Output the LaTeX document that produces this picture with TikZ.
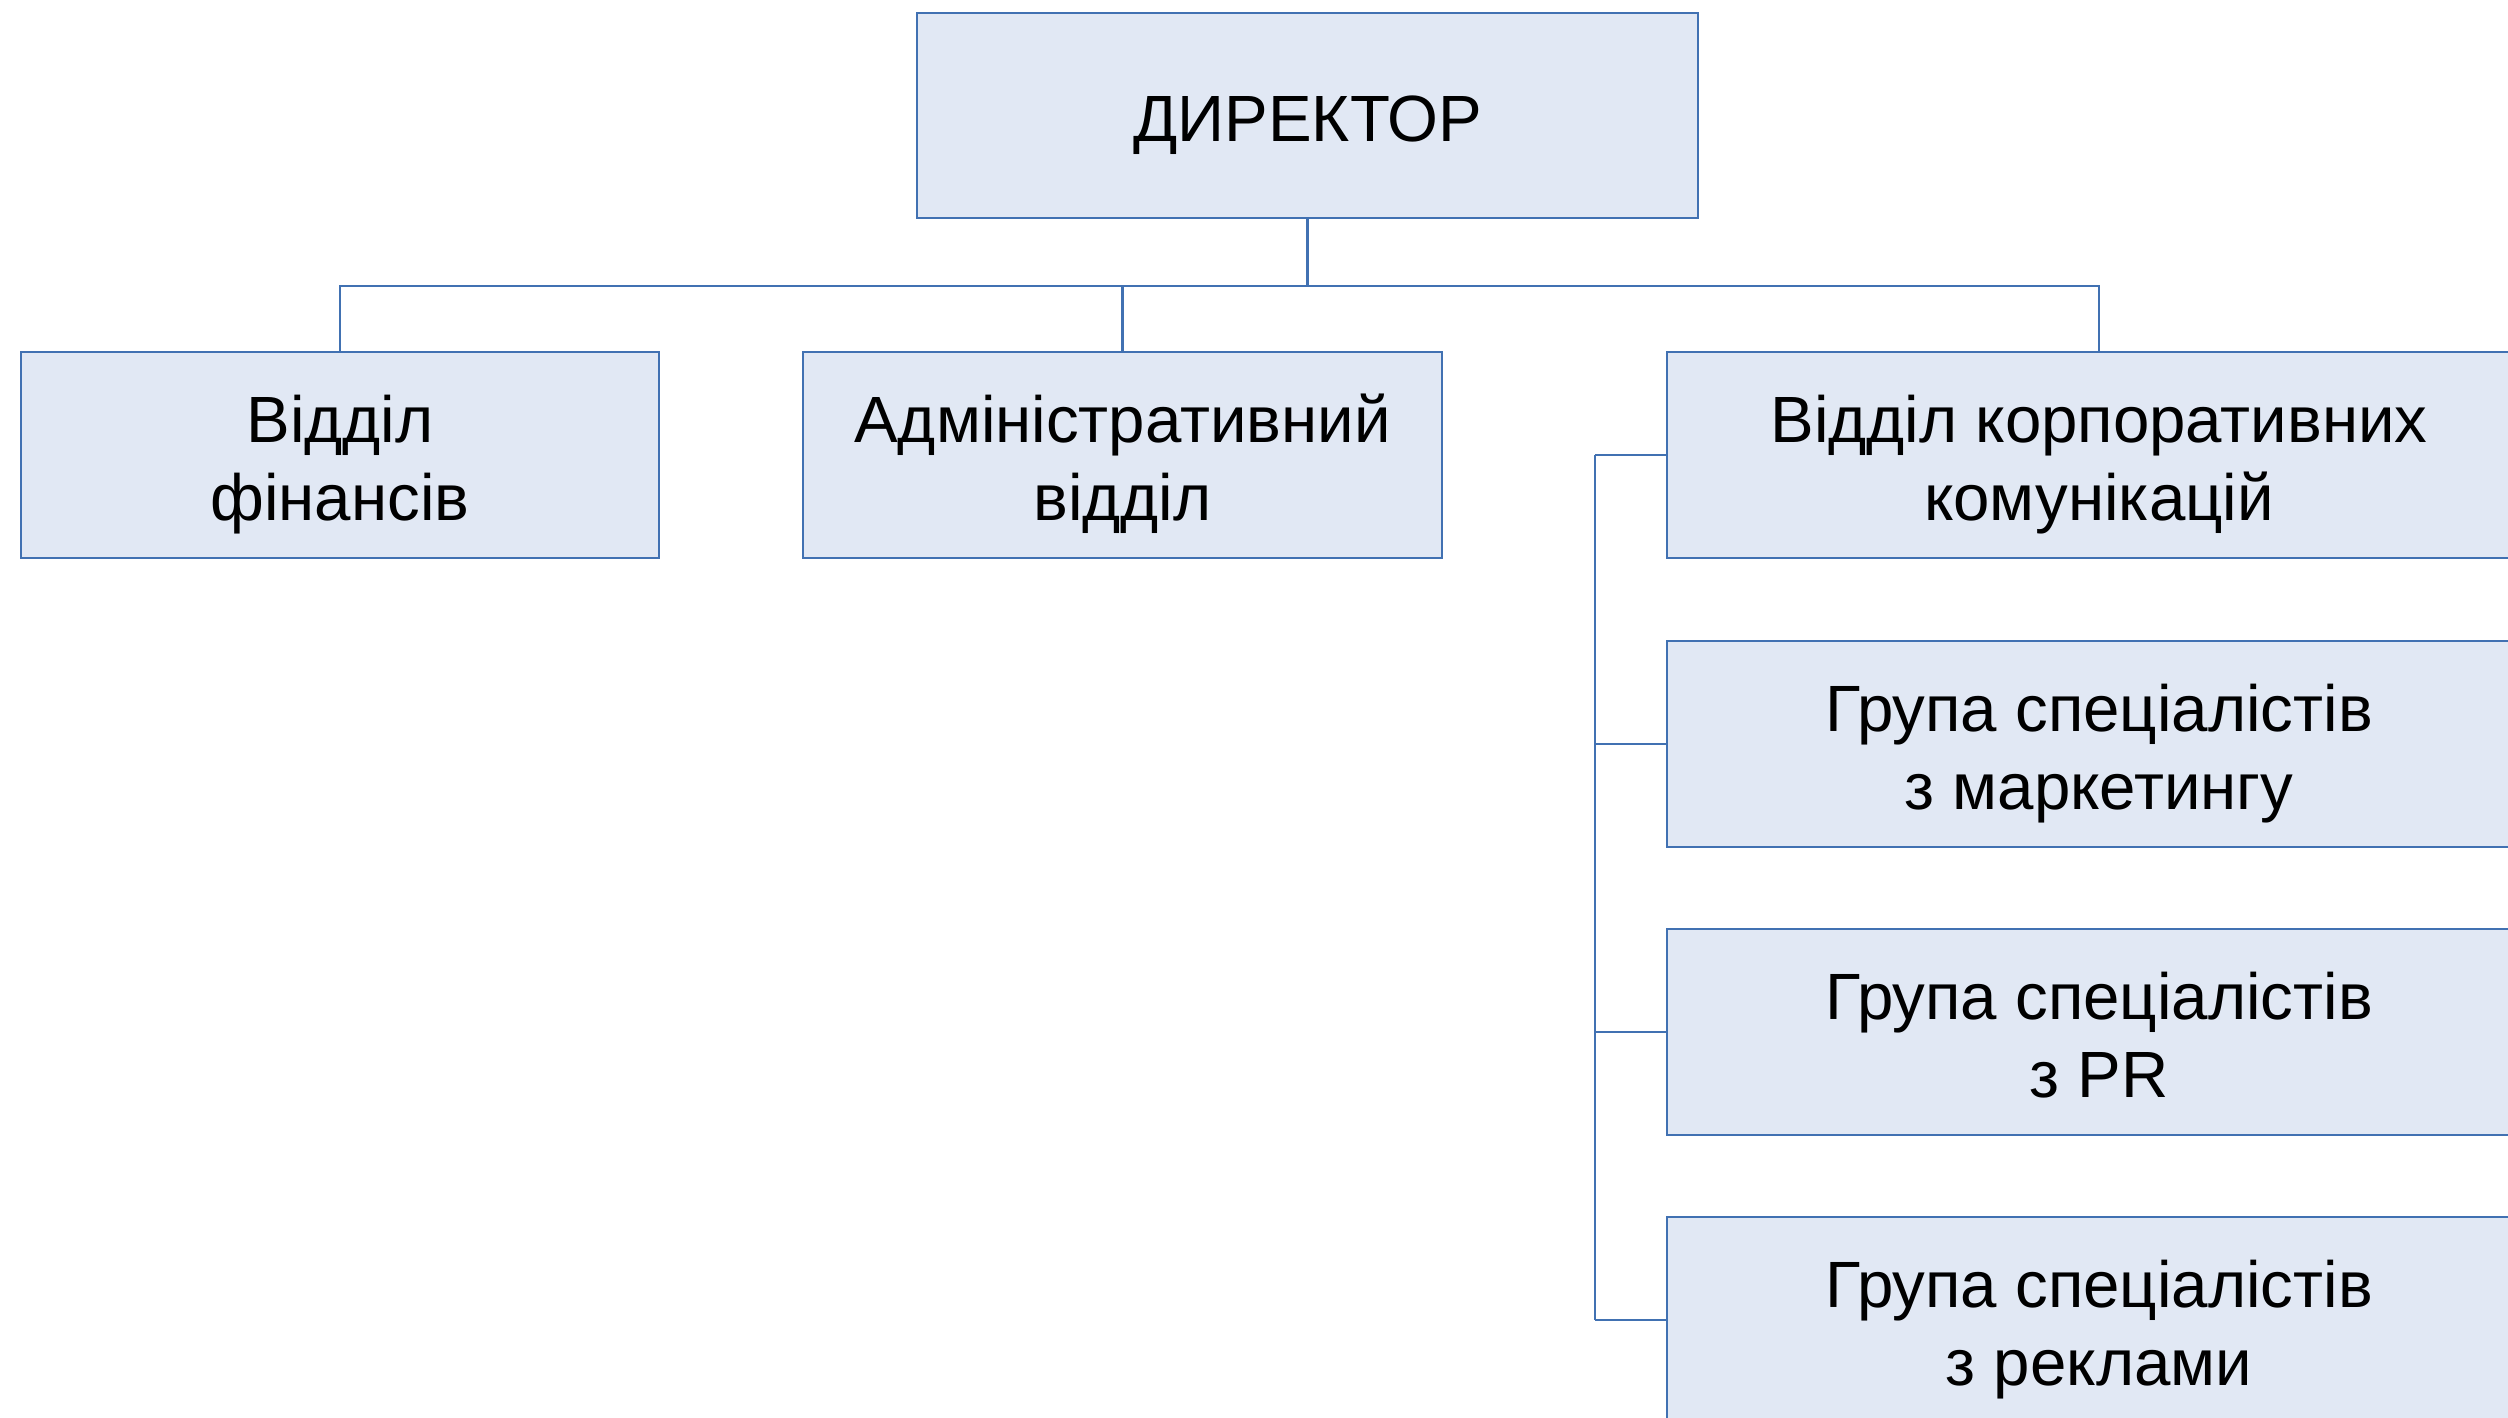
\documentclass[tikz,border=0pt]{standalone}
\usepackage{fontspec}
\setmainfont{Liberation Sans}
\definecolor{boxfill}{RGB}{225,232,244}
\definecolor{boxline}{RGB}{65,113,178}
\newcommand\upstrut{\rule{0pt}{20pt}}
\begin{document}
\begin{tikzpicture}[x=0.01cm,y=0.01cm,
		unit/.style={draw=boxline,fill=boxfill,line width=0.6pt,align=center,inner sep=0pt,
			minimum height=2.06cm,font=\fontsize{18.6}{22.2}\selectfont,
			execute at end node=\rule[-5pt]{0pt}{0pt}},
		link/.style={draw=boxline,line width=0.6pt}]
			\useasboundingbox (0,0) rectangle (2508,1418);
			\clip (0,0) rectangle (2508,1418);
			\coordinate (bus) at (1307.5,1132);
			\coordinate (rail) at (1595,963);
			\node[unit,minimum width=7.81cm,minimum height=2.05cm] (dir) at (1307.5,1302.5) {\upstrut ДИРЕКТОР};
			\node[unit,minimum width=6.38cm] (fin) at (340,963) {\upstrut Відділ\\фінансів};
			\node[unit,minimum width=6.39cm] (adm) at (1122.5,963) {\upstrut Адміністративний\\відділ};
			\node[unit,minimum width=8.64cm] (corp) at (2099,963) {\upstrut Відділ корпоративних\\комунікацій};
			\node[unit,minimum width=8.64cm] (mkt) at (2099,674) {\upstrut Група спеціалістів\\з маркетингу};
			\node[unit,minimum width=8.64cm] (pr) at (2099,386) {\upstrut Група спеціалістів\\з PR};
			\node[unit,minimum width=8.64cm] (adv) at (2099,98) {\upstrut Група спеціалістів\\з реклами};
			\draw[link] (dir) -- (bus);
			\draw[link] (fin.north) |- (bus) -| (corp.north);
			\draw[link] (adm.north) -- (adm.north |- bus);
			\draw[link] (corp.west -| rail) -- (adv.west -| rail);
			\foreach \n in {corp,mkt,pr,adv}
				\draw[link] (\n.west) -- (\n.west -| rail);
		\end{tikzpicture}
\end{document}
